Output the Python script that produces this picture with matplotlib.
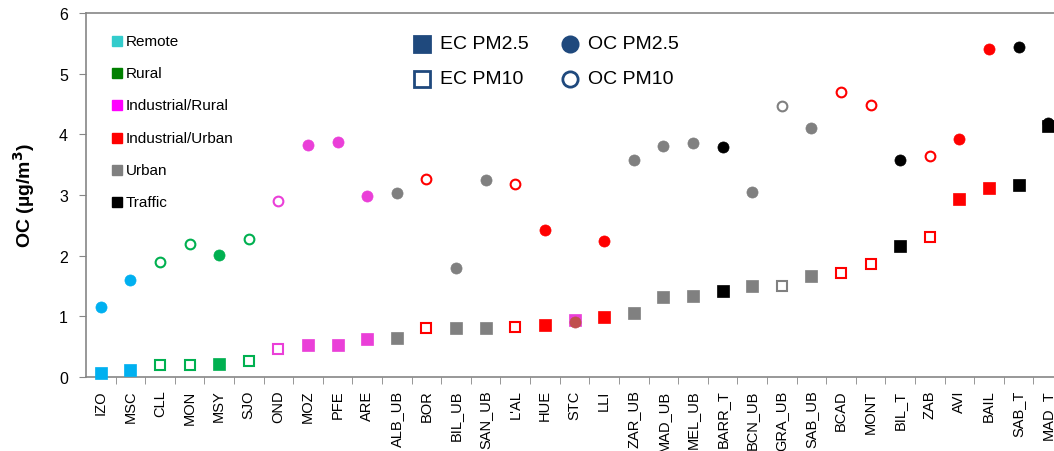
import matplotlib
matplotlib.use('Agg')
import matplotlib.pyplot as plt

plt.rcParams['font.family'] = ['Liberation Sans', 'DejaVu Sans']

# Sites in plotting order
sites = ['IZO', 'MSC', 'CLL', 'MON', 'MSY', 'SJO', 'OND', 'MOZ', 'PFE', 'ARE',
         'ALB_UB', 'BOR', 'BIL_UB', 'SAN_UB', "L'AL", 'HUE', 'STC', 'LLI', 'ZAR_UB',
         'MAD_UB', 'MEL_UB', 'BARR_T', 'BCN_UB', 'GRA_UB', 'SAB_UB', 'BCAD', 'MONT',
         'BIL_T', 'ZAB', 'AVI', 'BAIL', 'SAB_T', 'MAD_T']

# Site type per site
site_type = ['Remote', 'Remote', 'Rural', 'Rural', 'Rural', 'Rural',
             'Industrial/Rural', 'Industrial/Rural', 'Industrial/Rural', 'Industrial/Rural',
             'Urban', 'Industrial/Urban', 'Urban', 'Urban', 'Industrial/Urban',
             'Industrial/Urban', 'Industrial/Rural', 'Industrial/Urban', 'Urban',
             'Urban', 'Urban', 'Traffic', 'Urban', 'Urban', 'Urban', 'Industrial/Urban',
             'Industrial/Urban', 'Traffic', 'Industrial/Urban', 'Industrial/Urban',
             'Industrial/Urban', 'Traffic', 'Traffic']

# Size fraction per site (PM2.5 filled, PM10 open)
fraction = ['PM2.5', 'PM2.5', 'PM10', 'PM10', 'PM2.5', 'PM10', 'PM10', 'PM2.5', 'PM2.5',
            'PM2.5', 'PM2.5', 'PM10', 'PM2.5', 'PM2.5', 'PM10', 'PM2.5', 'PM2.5', 'PM2.5',
            'PM2.5', 'PM2.5', 'PM2.5', 'PM2.5', 'PM2.5', 'PM10', 'PM2.5', 'PM10', 'PM10',
            'PM2.5', 'PM10', 'PM2.5', 'PM2.5', 'PM2.5', 'PM2.5']

ec = [0.07, 0.12, 0.19, 0.19, 0.21, 0.27, 0.46, 0.53, 0.53, 0.62,
      0.64, 0.80, 0.80, 0.81, 0.83, 0.86, 0.94, 0.99, 1.06, 1.32,
      1.33, 1.42, 1.50, 1.50, 1.67, 1.71, 1.87, 2.16, 2.30, 2.93,
      3.12, 3.16, 4.13]

oc = [1.15, 1.60, 1.90, 2.20, 2.01, 2.28, 2.90, 3.82, 3.88, 2.99,
      3.03, 3.27, 1.80, 3.24, 3.18, 2.43, 0.90, 2.25, 3.57, 3.80,
      3.85, 3.79, 3.05, 4.46, 4.11, 4.69, 4.49, 3.58, 3.65, 3.92,
      5.40, 5.44, 4.19]

# legend entries and colours
legend_types = ['Remote', 'Rural', 'Industrial/Rural', 'Industrial/Urban', 'Urban', 'Traffic']
legend_colors = ['#33CCCC', '#008000', '#FF00FF', '#FF0000', '#808080', '#000000']
marker_colors = {'Remote': '#00B0F0', 'Rural': '#00B050', 'Industrial/Rural': '#EA3FD8',
                 'Industrial/Urban': '#FF0000', 'Urban': '#808080', 'Traffic': '#000000'}

fig = plt.figure(figsize=(10.54, 4.52), dpi=100)
W, H = 1054, 452
ax_left, ax_right, ax_top, ax_bottom = 86, 1063, 14, 378
ax = fig.add_axes([ax_left / W, (H - ax_bottom) / H,
                   (ax_right - ax_left) / W, (ax_bottom - ax_top) / H])

x = list(range(len(sites)))
for i in x:
    col = marker_colors[site_type[i]]
    filled = fraction[i] == 'PM2.5'
    size = 8 if filled else 7
    edge = 0.5 if filled else 1.5
    face = col if filled else 'white'
    ax.plot(i, ec[i], marker='s', markersize=size, linestyle='none',
            markerfacecolor=face, markeredgecolor=col, markeredgewidth=edge,
            clip_on=False, zorder=3)
    oc_col = '#C0504D' if sites[i] == 'STC' else col
    face = oc_col if filled else 'white'
    ax.plot(i, oc[i], marker='o', markersize=size, linestyle='none',
            markerfacecolor=face, markeredgecolor=oc_col, markeredgewidth=edge,
            clip_on=False, zorder=4)

ax.set_xlim(-0.5, len(sites) - 0.5)
ax.set_ylim(0, 6)
ax.set_yticks(range(0, 7))
ax.set_xticks(x)
ax.set_xticklabels(sites, rotation=90, fontsize=10.5)
ax.set_xticks([i + 0.5 for i in x], minor=True)
ax.tick_params(axis='x', which='major', length=0, pad=9)
ax.tick_params(axis='x', which='minor', length=5, color='#868686', direction='out')
ax.tick_params(axis='y', length=5, color='#868686', labelsize=11.5, pad=8)
for side in ['left', 'top', 'bottom']:
    ax.spines[side].set_color('#868686')
    ax.spines[side].set_linewidth(1.2)
ax.spines['right'].set_visible(False)
ax.set_ylabel('OC (µg/m$^\\mathbf{3}$)', fontsize=14, fontweight='bold', labelpad=16)


def to_ax(px, py):
    return (px - ax_left) / (ax_right - ax_left), (ax_bottom - py) / (ax_bottom - ax_top)


# site type legend
for k, (name, col) in enumerate(zip(legend_types, legend_colors)):
    py = 42 + k * 32.2
    mx, my = to_ax(117, py)
    ax.plot(mx, my, marker='s', markersize=7, color=col, transform=ax.transAxes, clip_on=False)
    tx, ty = to_ax(126, py)
    ax.text(tx, ty, name, transform=ax.transAxes, fontsize=11, va='center', ha='left')

# size fraction legend
navy = '#1F497D'
entries = [(422, 45, 's', True, 'EC PM2.5'), (570, 45, 'o', True, 'OC PM2.5'),
           (422, 80, 's', False, 'EC PM10'), (570, 80, 'o', False, 'OC PM10')]
for px, py, mk, filled, label in entries:
    mx, my = to_ax(px, py)
    ax.plot(mx, my, marker=mk, markersize=11, transform=ax.transAxes,
            markerfacecolor=navy if filled else 'white', markeredgecolor=navy,
            markeredgewidth=2, clip_on=False)
    tx, ty = to_ax(px + 18, py)
    ax.text(tx, ty, label, transform=ax.transAxes, fontsize=14, va='center', ha='left')

fig.savefig('out.png', dpi=100)
